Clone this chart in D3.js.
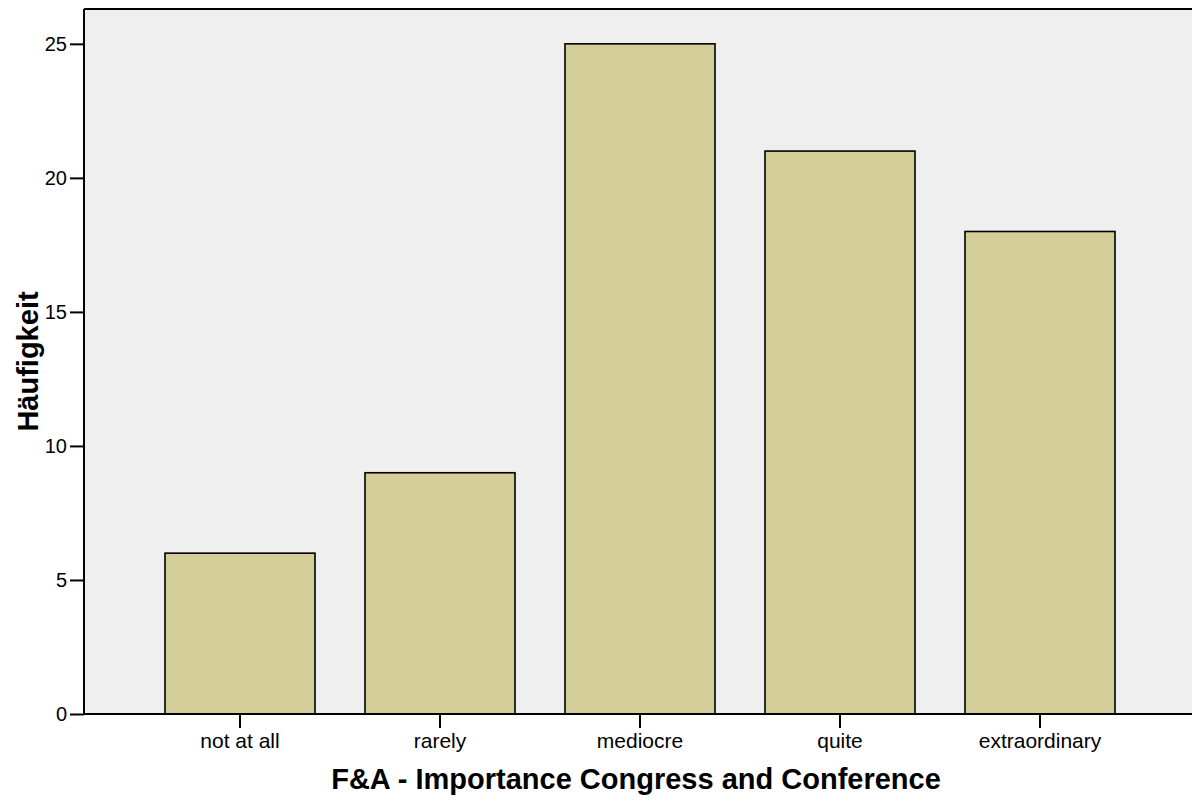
<!DOCTYPE html>
<html><head><meta charset="utf-8">
<script src="https://cdn.jsdelivr.net/npm/d3@7"></script>
<style>body{margin:0;background:#fff}svg{display:block}text{font-family:Arial,"Liberation Sans",sans-serif}</style>
</head><body>
<svg id="c" width="1192" height="800"></svg>
<script>
const categories = ["not at all", "rarely", "mediocre", "quite", "extraordinary"];
const counts = [6, 9, 25, 21, 18];
const yTicks = [0, 5, 10, 15, 20, 25];
const xTitle = "F&A - Importance Congress and Conference";
const yTitle = "Häufigkeit";

const svg = d3.select("#c");
const L = 84, T = 9, R = 1192, B = 714;
const FONT = "Arial, 'Liberation Sans', sans-serif";
const x = d3.scaleBand().domain(categories).range([140, 1140]).paddingInner(0.25).paddingOuter(0.125);
const y = d3.scaleLinear().domain([0, 26.3]).range([B, T]);

svg.append("rect").attr("x", L).attr("y", T).attr("width", R - L).attr("height", B - T).attr("fill", "#efefef");

svg.selectAll("rect.bar").data(counts).join("rect").attr("class", "bar")
  .attr("x", (d, i) => x(categories[i])).attr("width", x.bandwidth())
  .attr("y", d => y(d)).attr("height", d => B - y(d))
  .attr("fill", "#d3ce98").attr("stroke", "#000").attr("stroke-width", 1.6);

// frame: top
svg.append("line").attr("x1", L).attr("x2", R).attr("y1", T).attr("y2", T).attr("stroke", "#000").attr("stroke-width", 2);

const ya = svg.append("g").attr("transform", `translate(${L},0)`)
  .call(d3.axisLeft(y).tickValues(yTicks).tickSize(14).tickPadding(3).tickSizeOuter(0));
ya.attr("font-size", 21).attr("font-family", FONT);
ya.select(".domain").attr("d", `M0,${T}V${B}`).attr("stroke-width", 2);
ya.selectAll(".tick line").attr("stroke-width", 2);
ya.selectAll("text").attr("font-size", 20).attr("fill", "#000");

const xa = svg.append("g").attr("transform", `translate(0,${B})`)
  .call(d3.axisBottom(x).tickSize(14).tickPadding(5).tickSizeOuter(0));
xa.attr("font-size", 21).attr("font-family", FONT);
xa.select(".domain").attr("d", `M${L},0H${R}`).attr("stroke-width", 2);
xa.selectAll(".tick line").attr("stroke-width", 2);
xa.selectAll("text").attr("font-size", 21).attr("fill", "#000");

svg.append("text").attr("x", (L + R) / 2 - 2).attr("y", 789).attr("text-anchor", "middle")
  .attr("font-size", 29).attr("font-weight", "bold").attr("font-family", FONT).text(xTitle);
svg.append("text").attr("transform", `translate(38,${(T + B) / 2}) rotate(-90)`).attr("text-anchor", "middle")
  .attr("font-size", 29).attr("font-weight", "bold").attr("font-family", FONT).text(yTitle);
</script>
</body></html>
